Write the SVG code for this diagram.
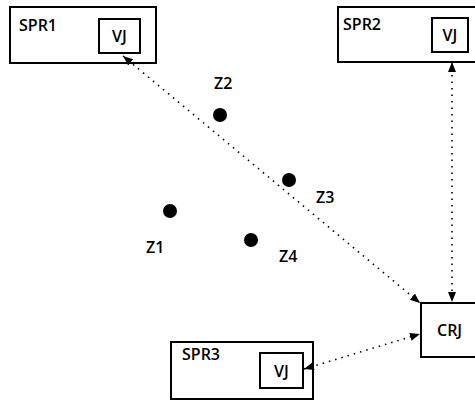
<svg xmlns="http://www.w3.org/2000/svg" width="475" height="400" viewBox="0 0 475 400">
<defs>
<marker id="ah" viewBox="0 0 10 10" refX="10" refY="5" markerWidth="10" markerHeight="10" markerUnits="userSpaceOnUse" orient="auto-start-reverse">
<path d="M0,1 L10,5 L0,9 Z" fill="#000"/>
</marker>
</defs>
<style>
.box{fill:#fff;stroke:#000;stroke-width:2}
.t{font-family:"Open Sans","Liberation Sans",sans-serif;font-size:16px;font-weight:600;fill:#000}
.c{stroke:#000;stroke-width:1.6;stroke-dasharray:1.5 5;fill:none;marker-start:url(#ah);marker-end:url(#ah)}
.dot{fill:#000}
</style>
<rect width="475" height="400" fill="#fff"/>
<g id="SPR1">
<rect class="box" x="10" y="7" width="146" height="56"/>
<text class="t" x="19" y="31">SPR1</text>
<rect class="box" x="99" y="19" width="41" height="34"/>
<text class="t" x="119.5" y="42" text-anchor="middle">VJ</text>
</g>
<g id="SPR2">
<rect class="box" x="338" y="7" width="145" height="55"/>
<text class="t" x="343" y="30">SPR2</text>
<rect class="box" x="432" y="18" width="36" height="34"/>
<text class="t" x="450" y="41" text-anchor="middle">VJ</text>
</g>
<g id="SPR3">
<rect class="box" x="171" y="342" width="142" height="57"/>
<text class="t" x="182" y="360">SPR3</text>
<rect class="box" x="260" y="353" width="43" height="35"/>
<text class="t" x="281.5" y="377" text-anchor="middle">VJ</text>
</g>
<g id="CRJ">
<rect class="box" x="421" y="303" width="70" height="54"/>
<text class="t" x="437" y="336">CRJ</text>
</g>
<g id="Z1">
<circle class="dot" cx="170" cy="211" r="7"/>
<text class="t" x="146" y="253">Z1</text>
</g>
<g id="Z2">
<circle class="dot" cx="220" cy="115" r="7"/>
<text class="t" x="214" y="89">Z2</text>
</g>
<g id="Z3">
<circle class="dot" cx="289" cy="180" r="7"/>
<text class="t" x="316" y="203">Z3</text>
</g>
<g id="Z4">
<circle class="dot" cx="251" cy="240" r="7"/>
<text class="t" x="279" y="262">Z4</text>
</g>
<g id="connectors">
<line class="c" x1="123" y1="56" x2="420" y2="303"/>
<line class="c" x1="452" y1="62" x2="452" y2="302"/>
<line class="c" x1="304" y1="369" x2="420" y2="334"/>
</g>
</svg>
